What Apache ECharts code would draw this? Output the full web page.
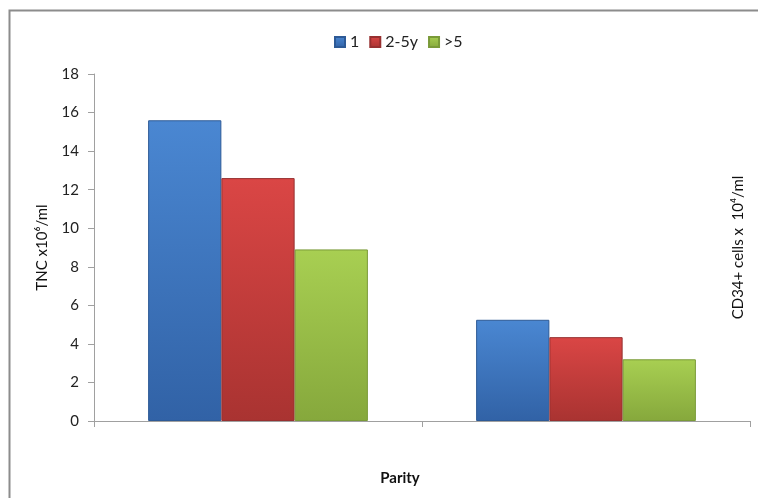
<!DOCTYPE html>
<html><head><meta charset="utf-8">
<script src="https://cdn.jsdelivr.net/npm/echarts@6/dist/echarts.min.js"></script>
<style>html,body{margin:0;padding:0;background:#fff}#c{width:758px;height:498px}</style>
</head><body><div id="c"></div>
<script>
var categories = ['TNC', 'CD34+'];
var seriesNames = ['1', '2-5y', '>5'];
var values1 = [15.6, 5.25];
var values25 = [12.6, 4.35];
var values5 = [8.9, 3.2];
var yTicks = [0, 2, 4, 6, 8, 10, 12, 14, 16, 18];

var font = 'Lato, "Open Sans", sans-serif';
function grad(top, bottom) {
  return new echarts.graphic.LinearGradient(0, 0, 0, 1, [
    {offset: 0, color: top}, {offset: 1, color: bottom}
  ]);
}
var styles = [
  {color: grad('#4a87d2', '#3162a6'), borderColor: '#2d5a96'},
  {color: grad('#da4645', '#a93331'), borderColor: '#973030'},
  {color: grad('#a8cf52', '#86a83c'), borderColor: '#7a9a38'}
];
var data = [values1, values25, values5];
var chart = echarts.init(document.getElementById('c'));
chart.setOption({
  animation: false,
  textStyle: {fontFamily: font},
  graphic: [
    {type: 'rect', shape: {x: 9.5, y: 10.5, width: 800, height: 600},
      style: {fill: 'none', stroke: '#8c8c8c', lineWidth: 2}},
    {type: 'text', x: 400, y: 478, style: {text: 'Parity', fontFamily: font, fontSize: 15,
      fontWeight: 'bold', fill: '#111', align: 'center', verticalAlign: 'middle'}}
  ],
  legend: {
    top: 29, left: 329, itemWidth: 10, itemHeight: 10, itemGap: 10, icon: 'rect',
    textStyle: {fontSize: 16, color: '#222', fontFamily: font},
    data: seriesNames
  },
  grid: {left: 94, right: 8, top: 74, bottom: 77},
  xAxis: {
    type: 'category', data: categories,
    axisLine: {lineStyle: {color: '#a0a0a0'}},
    axisTick: {show: true, length: 6, lineStyle: {color: '#a0a0a0'}},
    axisLabel: {show: false}
  },
  yAxis: [{
    type: 'value', min: 0, max: 18, interval: 2,
    name: 'TNC x10\u2076/ml', nameLocation: 'middle', nameGap: 44, nameRotate: 90,
    nameTextStyle: {fontSize: 15, color: '#111', fontFamily: font},
    axisLine: {show: true, lineStyle: {color: '#a0a0a0'}},
    axisTick: {show: true, length: 6, lineStyle: {color: '#a0a0a0'}},
    axisLabel: {fontSize: 15, color: '#222', margin: 15, fontFamily: font,
      formatter: function(v){ return yTicks.indexOf(v) >= 0 ? String(v) : ''; }},
    splitLine: {show: false}
  }, {
    type: 'value', min: 0, max: 18, interval: 2, position: 'right',
    name: 'CD34+ cells x  10\u2074/ml', nameLocation: 'middle', nameGap: -19, nameRotate: 90,
    nameTextStyle: {fontSize: 15, color: '#111', fontFamily: font},
    axisLine: {show: false}, axisTick: {show: false}, axisLabel: {show: false},
    splitLine: {show: false}
  }],
  series: seriesNames.map(function(n, i){
    return {
      name: n, type: 'bar', data: data[i], barGap: '0%', barCategoryGap: '33%',
      itemStyle: {color: styles[i].color, borderColor: styles[i].borderColor, borderWidth: 1}
    };
  }),
  color: ['#3f78c4', '#c83e3c', '#96bb47']
});
</script></body></html>
